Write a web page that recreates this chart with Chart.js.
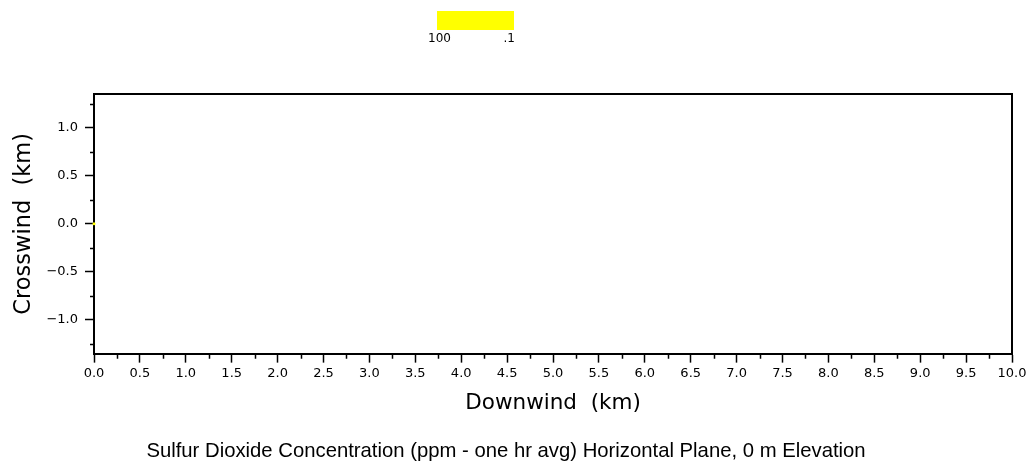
<!DOCTYPE html>
<html>
<head>
<meta charset="utf-8">
<script src="https://cdn.jsdelivr.net/npm/chart.js@4/dist/chart.umd.min.js"></script>
<style>
  body { margin: 0; background: #fff; }
  canvas { display: block; }
</style>
</head>
<body>
<canvas id="chart" width="1032" height="466"></canvas>
<script>
// plume receptor points (km)
const downwindKm = [0];
const crosswindKm = [0];

// concentration colour key (ppm)
const keyLabels = ['100', '.1'];
const keyColors = ['#ffff00'];

const xRange = [0, 10];
const yRange = [-1.35, 1.35];

const tickFont = { family: 'DejaVu Sans', size: 13 };
const fmt = v => (v < 0 ? '\u2212' : '') + Math.abs(v).toFixed(1);

// minor tick marks between the labelled ones, plus the top/right frame
const minorTicks = {
  id: 'minorTicks',
  afterDraw(chart) {
    const ctx = chart.ctx;
    const a = chart.chartArea;
    const x = chart.scales.x, y = chart.scales.y;
    ctx.save();
    ctx.strokeStyle = '#000';
    ctx.lineWidth = 1.5;
    ctx.beginPath();
    for (let v = xRange[0] + 0.25; v < xRange[1]; v += 0.5) {
      const px = Math.round(x.getPixelForValue(v)) + 0.5;
      ctx.moveTo(px, a.bottom);
      ctx.lineTo(px, a.bottom + 5);
    }
    for (let v = -1.25; v <= 1.25; v += 0.5) {
      const py = Math.round(y.getPixelForValue(v)) + 0.5;
      ctx.moveTo(a.left, py);
      ctx.lineTo(a.left - 4, py);
    }
    ctx.stroke();
    ctx.lineWidth = 2;
    ctx.beginPath();
    ctx.moveTo(a.left, a.top);
    ctx.lineTo(a.right, a.top);
    ctx.lineTo(a.right, a.bottom);
    ctx.stroke();
    ctx.restore();
  }
};

// colour key above the plot
const colorKey = {
  id: 'colorKey',
  afterDraw(chart) {
    const ctx = chart.ctx;
    ctx.save();
    ctx.fillStyle = keyColors[0];
    ctx.fillRect(437, 11, 77, 19);
    ctx.fillStyle = '#000';
    ctx.font = '12px "DejaVu Sans"';
    ctx.textBaseline = 'middle';
    ctx.textAlign = 'left';
    ctx.fillText(keyLabels[0], 428, 39);
    ctx.textAlign = 'right';
    ctx.fillText(keyLabels[1], 515, 39);
    ctx.restore();
  }
};

new Chart(document.getElementById('chart'), {
  type: 'scatter',
  data: {
    datasets: [{
      data: downwindKm.map((d, i) => ({ x: d, y: crosswindKm[i] })),
      backgroundColor: '#ffff00',
      borderColor: '#ffff00',
      pointRadius: 1.5,
      borderWidth: 0,
      clip: false
    }]
  },
  options: {
    responsive: false,
    animation: false,
    layout: { padding: { top: 94, right: 20, left: 0, bottom: 0 } },
    plugins: {
      legend: { display: false },
      tooltip: { enabled: false },
      title: {
        display: true,
        position: 'bottom',
        text: 'Sulfur Dioxide Concentration (ppm - one hr avg) Horizontal Plane, 0 m Elevation',
        color: '#000',
        font: { family: 'Liberation Sans', size: 20.3, weight: 'normal' },
        padding: { top: 0, bottom: 2 }
      }
    },
    scales: {
      x: {
        type: 'linear',
        min: xRange[0],
        max: xRange[1],
        afterFit(s) { s.height = 86; },
        ticks: {
          stepSize: 0.5,
          includeBounds: false,
          color: '#000',
          font: tickFont,
          padding: 3,
          maxRotation: 0,
          autoSkip: false,
          callback: fmt
        },
        grid: { drawOnChartArea: false, tickLength: 9, tickColor: '#000', tickWidth: 1.5 },
        border: { color: '#000', width: 2 },
        title: {
          display: true,
          text: 'Downwind  (km)',
          color: '#000',
          font: { family: 'DejaVu Sans', size: 21.5 },
          padding: { top: 0, bottom: 23 }
        }
      },
      y: {
        type: 'linear',
        min: yRange[0],
        max: yRange[1],
        afterFit(s) { s.width = 94; },
        ticks: {
          stepSize: 0.5,
          includeBounds: false,
          color: '#000',
          font: tickFont,
          padding: 7,
          callback: fmt
        },
        grid: { drawOnChartArea: false, tickLength: 9, tickColor: '#000', tickWidth: 1.5 },
        border: { color: '#000', width: 2 },
        title: {
          display: true,
          text: 'Crosswind  (km)',
          color: '#000',
          font: { family: 'DejaVu Sans', size: 22.5 },
          padding: { top: 11, bottom: 0 }
        }
      }
    }
  },
  plugins: [minorTicks, colorKey]
});
</script>
</body>
</html>
